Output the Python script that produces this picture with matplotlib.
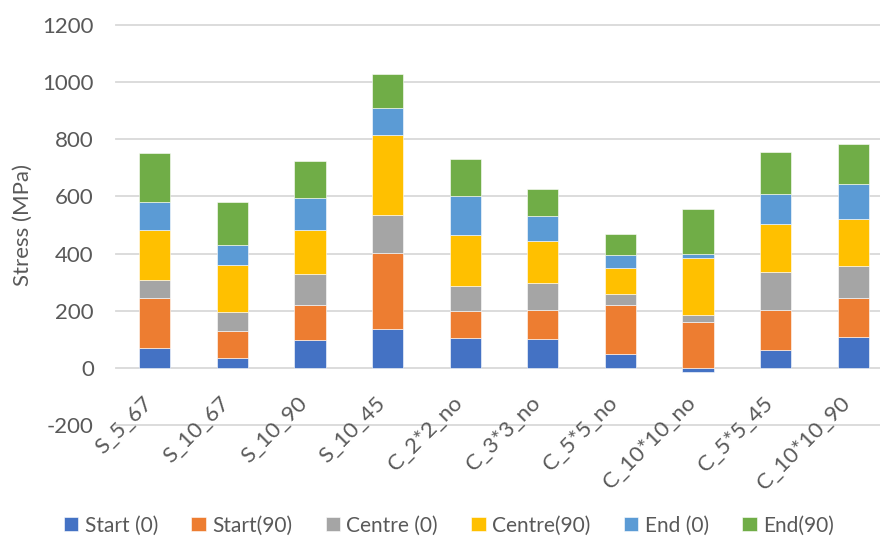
import numpy as np
import matplotlib.pyplot as plt
from matplotlib.transforms import ScaledTranslation

# Stress components per specimen (MPa)
specimens = ['S_5_67', 'S_10_67', 'S_10_90', 'S_10_45', 'C_2*2_no', 'C_3*3_no',
             'C_5*5_no', 'C_10*10_no', 'C_5*5_45', 'C_10*10_90']
start_0 = [70, 33, 98, 136, 105, 101, 49, -16, 64, 108]
start_90 = [175, 95, 123, 266, 94, 103, 171, 161, 140, 137]
centre_0 = [62, 68, 106, 133, 87, 94, 37, 25, 131, 112]
centre_90 = [177, 165, 157, 280, 180, 145, 92, 200, 169, 163]
end_0 = [96, 70, 110, 96, 135, 87, 47, 14, 104, 125]
end_90 = [172, 151, 130, 118, 129, 97, 72, 156, 149, 140]

series_names = ['Start (0)', 'Start(90)', 'Centre (0)', 'Centre(90)', 'End (0)', 'End(90)']
series_colors = ['#4472C4', '#ED7D31', '#A5A5A5', '#FFC000', '#5B9BD5', '#70AD47']
y_ticks = np.arange(-200, 1201, 200)

plt.rcParams['font.family'] = ['Lato', 'DejaVu Sans']
plt.rcParams['axes.unicode_minus'] = False
text_color = '#595959'
grid_color = '#D9D9D9'

fig = plt.figure(figsize=(8.8, 5.38), dpi=100)
ax = fig.add_axes([0.1318, 0.2074, 0.8682, 0.7489])

x = np.arange(len(specimens))
pos_bottom = np.zeros(len(specimens))
neg_bottom = np.zeros(len(specimens))
for name, vals, col in zip(series_names,
                           [start_0, start_90, centre_0, centre_90, end_0, end_90],
                           series_colors):
    vals = np.array(vals, dtype=float)
    bottom = np.where(vals >= 0, pos_bottom, neg_bottom)
    ax.bar(x, vals, width=0.4, bottom=bottom, color=col, label=name,
           edgecolor='white', linewidth=0.4, zorder=3)
    pos_bottom += np.where(vals >= 0, vals, 0)
    neg_bottom += np.where(vals < 0, vals, 0)

ax.set_xlim(-0.5, 9.345)
ax.set_ylim(-205, 1205)
ax.set_yticks(y_ticks)

# horizontal gridlines drawn by hand so the outer ones always show
for yv in y_ticks:
    ax.axhline(yv, color=grid_color, linewidth=1.3, zorder=0.5, clip_on=False)

for side in ['top', 'right', 'left', 'bottom']:
    ax.spines[side].set_visible(False)
ax.spines['bottom'].set_position(('data', 0))

ax.set_xticks(x)
ax.set_xticklabels(specimens, rotation=45, ha='right', va='center',
                   rotation_mode='anchor')
ax.tick_params(axis='x', length=0, pad=23, labelsize=16, labelcolor=text_color)
ax.tick_params(axis='y', length=0, pad=16, labelsize=16, labelcolor=text_color)

# nudge the slanted category labels a little to the left
shift = ScaledTranslation(-6 / 100, 0, fig.dpi_scale_trans)
for lbl in ax.get_xticklabels():
    lbl.set_transform(lbl.get_transform() + shift)

ax.set_ylabel('Stress (MPa)', fontsize=16, color=text_color, labelpad=7)

fig.legend(loc='lower center', bbox_to_anchor=(0.51, -0.03), ncol=6, frameon=False,
           fontsize=15, labelcolor=text_color, handlelength=0.7, handleheight=0.7,
           handletextpad=0.3, columnspacing=1.6)

fig.savefig('out.png', dpi=100)
